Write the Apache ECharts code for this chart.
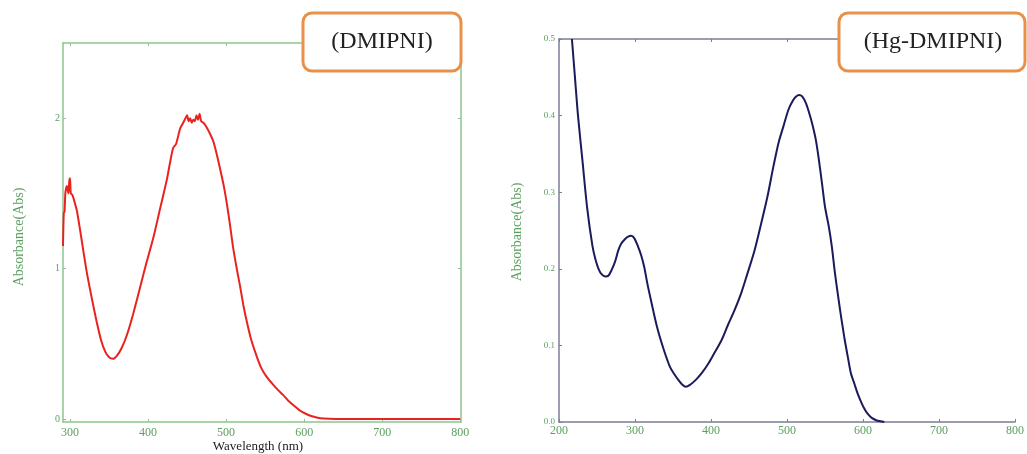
<!DOCTYPE html>
<html>
<head>
<meta charset="utf-8">
<script src="https://cdn.jsdelivr.net/npm/echarts@6/dist/echarts.min.js"></script>
<style>html,body{margin:0;padding:0;background:#fff;}#c{width:1027px;height:454px;}</style>
</head>
<body>
<div id="c"></div>
<script>
// ---- data ----
const dmipniWl = [291,292,293,294,296,298,299,300,301,303,306,309,314,321,328,334,340,345,350,355,360,366,373,381,390,398,407,415,424,428,432,436,441,444,447,450,452,454,456,458,460,462,464,466,468,471,475,480,484,488,492,497,501,505,509,514,518,522,526,532,539,545,552,560,567,573,580,588,595,602,609,616,625,640,660,700,750,800];
const dmipniAbs = [1.15,1.37,1.38,1.50,1.55,1.50,1.58,1.60,1.50,1.49,1.44,1.38,1.22,0.99,0.80,0.65,0.52,0.45,0.41,0.40,0.42,0.47,0.56,0.70,0.88,1.04,1.21,1.39,1.59,1.70,1.80,1.83,1.93,1.96,1.99,2.02,1.98,2.00,1.97,1.99,1.98,2.02,1.99,2.03,1.98,1.97,1.94,1.89,1.84,1.76,1.67,1.55,1.43,1.29,1.14,0.99,0.88,0.76,0.66,0.53,0.42,0.34,0.28,0.23,0.19,0.16,0.12,0.085,0.055,0.035,0.02,0.01,0.003,0,0,0,0,0];
const hgWl = [217,221,225,231,237,244,248,252,256,261,265,269,274,278,282,287,291,295,299,304,308,312,316,321,329,338,346,352,357,362,367,373,380,388,397,405,414,422,431,440,448,457,465,474,482,489,495,502,508,512,516,520,525,529,533,538,542,546,550,555,559,563,568,572,576,580,584,589,593,598,602,606,612,618,623,628];
const hgAbs = [0.50,0.45,0.40,0.34,0.28,0.23,0.212,0.20,0.193,0.19,0.191,0.198,0.21,0.224,0.233,0.239,0.242,0.243,0.240,0.229,0.218,0.203,0.182,0.159,0.124,0.094,0.072,0.062,0.055,0.049,0.046,0.049,0.055,0.064,0.077,0.091,0.107,0.126,0.146,0.169,0.194,0.223,0.255,0.293,0.333,0.365,0.385,0.408,0.42,0.425,0.427,0.425,0.416,0.404,0.39,0.368,0.342,0.312,0.281,0.255,0.229,0.195,0.159,0.132,0.107,0.085,0.064,0.049,0.037,0.025,0.017,0.011,0.005,0.002,0.001,0];
const leftXTicks = [300,400,500,600,700,800];
const leftYTicks = [0,1,2];
const leftTitle = '(DMIPNI)';
const rightTitle = '(Hg-DMIPNI)';
const xName = 'Wavelength (nm)';
const yName = 'Absorbance(Abs)';

const serif = "'Liberation Serif','Times New Roman',serif";
const greenLbl = '#5a9f5e';
const greenLine = '#8cc68c';
const blueLine = '#7c7c98';

function pairs(xs, ys){ return xs.map((x,i)=>[x, ys[i]]); }

const chart = echarts.init(document.getElementById('c'), null, {renderer:'canvas'});
const baseTick = {show:true, inside:true, length:3};
chart.setOption({
  animation:false,
  backgroundColor:'#fff',
  grid:[
    {left:63, top:43, width:398, height:379},
    {left:559, top:39, width:470, height:383}
  ],
  xAxis:[
    {gridIndex:0, type:'value', min:291, max:801, position:'bottom',
     axisLine:{onZero:false, lineStyle:{color:greenLine, width:1.5}},
     axisTick:Object.assign({customValues:leftXTicks, lineStyle:{color:greenLine}}, baseTick),
     axisLabel:{customValues:leftXTicks, color:greenLbl, fontSize:12, fontFamily:serif, margin:5},
     splitLine:{show:false}},
    {gridIndex:0, type:'value', min:291, max:801, position:'top',
     axisLine:{onZero:false, lineStyle:{color:greenLine, width:1.5}},
     axisTick:Object.assign({customValues:leftXTicks, lineStyle:{color:greenLine}}, baseTick),
     axisLabel:{show:false}, splitLine:{show:false}},
    {gridIndex:1, type:'value', min:200, max:800, interval:100, position:'bottom',
     axisLine:{onZero:false, lineStyle:{color:blueLine, width:1.5}},
     axisTick:Object.assign({lineStyle:{color:blueLine}}, baseTick),
     axisLabel:{color:greenLbl, fontSize:12, fontFamily:serif, margin:3},
     splitLine:{show:false}},
    {gridIndex:1, type:'value', min:200, max:800, interval:100, position:'top',
     axisLine:{onZero:false, lineStyle:{color:blueLine, width:1.5}},
     axisTick:Object.assign({lineStyle:{color:blueLine}}, baseTick),
     axisLabel:{show:false}, splitLine:{show:false}}
  ],
  yAxis:[
    {gridIndex:0, type:'value', min:-0.02, max:2.5, position:'left',
     axisLine:{show:true, onZero:false, lineStyle:{color:greenLine, width:1.5}},
     axisTick:Object.assign({customValues:leftYTicks, lineStyle:{color:greenLine}}, baseTick),
     axisLabel:{customValues:leftYTicks, color:greenLbl, fontSize:10, fontFamily:serif, margin:3},
     splitLine:{show:false}},
    {gridIndex:0, type:'value', min:-0.02, max:2.5, position:'right',
     axisLine:{show:true, onZero:false, lineStyle:{color:greenLine, width:1.5}},
     axisTick:Object.assign({customValues:leftYTicks, lineStyle:{color:greenLine}}, baseTick),
     axisLabel:{show:false}, splitLine:{show:false}},
    {gridIndex:1, type:'value', min:0, max:0.5, interval:0.1, position:'left',
     axisLine:{show:true, onZero:false, lineStyle:{color:blueLine, width:1.5}},
     axisTick:Object.assign({lineStyle:{color:blueLine}}, baseTick),
     axisLabel:{color:greenLbl, fontSize:9, fontFamily:serif, margin:4, formatter:v=>v.toFixed(1)},
     splitLine:{show:false}}
  ],
  series:[
    {type:'line', xAxisIndex:0, yAxisIndex:0, data:pairs(dmipniWl, dmipniAbs), showSymbol:false, smooth:0.2,
     lineStyle:{color:'#e8231f', width:2}, z:3},
    {type:'line', xAxisIndex:2, yAxisIndex:2, data:pairs(hgWl, hgAbs), showSymbol:false, smooth:0.3,
     lineStyle:{color:'#1b1a5c', width:2}, z:3}
  ],
  graphic:[
    {type:'text', z:50, x:258, y:447, style:{text:xName, fill:'#222', font:'13px '+serif, align:'center', verticalAlign:'middle'}},
    {type:'text', z:50, x:19, y:237, rotation:Math.PI/2, style:{text:yName, fill:greenLbl, font:'14px '+serif, align:'center', verticalAlign:'middle'}},
    {type:'text', z:50, x:517, y:232, rotation:Math.PI/2, style:{text:yName, fill:greenLbl, font:'14px '+serif, align:'center', verticalAlign:'middle'}},
    {type:'rect', z:60, shape:{x:303, y:13, width:158, height:58, r:9}, style:{fill:'#fff', stroke:'#e8914b', lineWidth:3}},
    {type:'text', z:61, x:382, y:42, style:{text:leftTitle, fill:'#222', font:'24px '+serif, align:'center', verticalAlign:'middle'}},
    {type:'rect', z:60, shape:{x:839, y:13, width:186, height:58, r:9}, style:{fill:'#fff', stroke:'#e8914b', lineWidth:3}},
    {type:'text', z:61, x:933, y:42, style:{text:rightTitle, fill:'#222', font:'24px '+serif, align:'center', verticalAlign:'middle'}}
  ]
});
</script>
</body>
</html>
